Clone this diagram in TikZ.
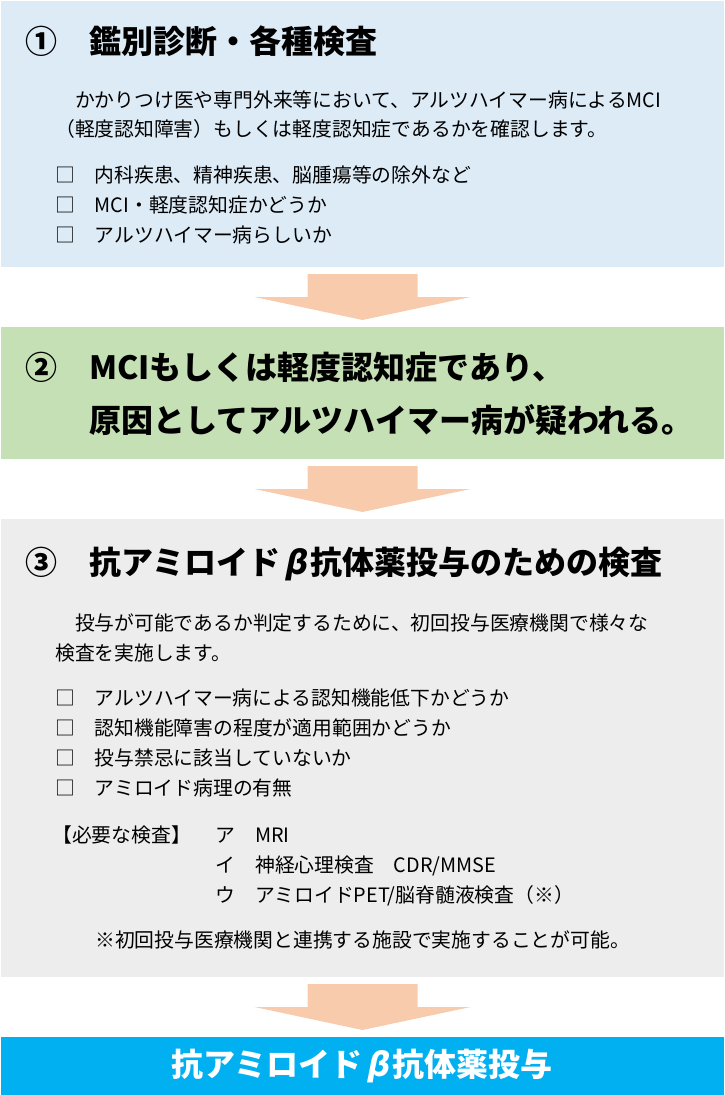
\documentclass[tikz,border=0pt]{standalone}
\usepackage{fontspec}
\setmainfont{Noto Sans CJK JP}
\newfontfamily\betafont{Noto Sans CJK JP}[FakeSlant=0.2]
\usetikzlibrary{calc}
\definecolor{bluebg}{HTML}{DDEBF7}
\definecolor{greenbg}{HTML}{C5E0B4}
\definecolor{graybg}{HTML}{EDEDED}
\definecolor{cyanbg}{HTML}{00B0F0}
\definecolor{arrowc}{HTML}{F8CBAD}
\newcommand{\slbeta}{\makebox[30pt]{\betafont\bfseries β}}
\tikzset{
  panel/.style={rectangle, draw=none, inner sep=0, outer sep=0, anchor=north west, minimum width=723pt},
  txt/.style={anchor=base west, inner sep=0, font=\fontsize{19.8}{24}\selectfont},
  ttl/.style={anchor=base west, inner sep=0, font=\fontsize{32}{38}\selectfont\bfseries},
  blockarrow/.style={fill=arrowc, draw=none}
}
\newcommand{\downarrowblock}[1]{%
  \fill[blockarrow] ($(#1)+(-55,-23)$) -- ($(#1)+(55,-23)$) -- ($(#1)+(55,0)$) -- ($(#1)+(108,0)$)
    -- ($(#1)+(0,23)$) -- ($(#1)+(-108,0)$) -- ($(#1)+(-55,0)$) -- cycle;}
\begin{document}
\begin{tikzpicture}[x=1pt, y=-1pt]
\useasboundingbox (0,0) rectangle (725,1095);
% panels
\node[panel, fill=bluebg, minimum height=266pt] (p1) at (1,1) {};
\node[panel, fill=greenbg, minimum height=132pt] (p2) at (1,327) {};
\node[panel, fill=graybg, minimum height=458pt] (p3) at (1,519) {};
\node[panel, fill=cyanbg, minimum height=60pt] (p4) at (1,1037) {};
% arrows between panels
\path (p1.south) -- (p2.north) coordinate[midway] (m1);
\path (p2.south) -- (p3.north) coordinate[midway] (m2);
\path (p3.south) -- (p4.north) coordinate[midway] (m3);
\downarrowblock{m1}
\downarrowblock{m2}
\downarrowblock{m3}
% panel 1
\node[ttl] (n1) at (25,53) {①};
\node[ttl] (t1) at (89,53) {鑑別診断・各種検査};
\node[txt] (b1a) at (55,107) {　かかりつけ医や専門外来等において、アルツハイマー病によるMCI};
\node[txt] (b1b) at (55,136) {（軽度認知障害）もしくは軽度認知症であるかを確認します。};
\node[txt] (c1a) at (55,182) {□　内科疾患、精神疾患、脳腫瘍等の除外など};
\node[txt] (c1b) at (55,212) {□　MCI・軽度認知症かどうか};
\node[txt] (c1c) at (55,242) {□　アルツハイマー病らしいか};
% panel 2
\node[ttl] (n2) at (25,379) {②};
\node[ttl] (t2a) at (89,379) {MCIもしくは軽度認知症であり、};
\node[ttl] (t2b) at (89,432) {原因としてアルツハイマー病が疑われる。};
% panel 3
\node[ttl] (n3) at (25,574) {③};
\node[ttl] (t3) at (89,574) {抗アミロイド\slbeta 抗体薬投与のための検査};
\node[txt] (b3a) at (55,630) {　投与が可能であるか判定するために、初回投与医療機関で様々な};
\node[txt] (b3b) at (55,660) {検査を実施します。};
\node[txt] (c3a) at (55,705) {□　アルツハイマー病による認知機能低下かどうか};
\node[txt] (c3b) at (55,735) {□　認知機能障害の程度が適用範囲かどうか};
\node[txt] (c3c) at (55,765) {□　投与禁忌に該当していないか};
\node[txt] (c3d) at (55,795) {□　アミロイド病理の有無};
\node[txt] (req) at (52,842) {【必要な検査】};
\node[txt] (ka) at (215,842) {ア};
\node[txt] (ta) at (255,842) {MRI};
\node[txt] (ki) at (215,872) {イ};
\node[txt] (ti) at (255,872) {神経心理検査　CDR/MMSE};
\node[txt] (ku) at (215,902) {ウ};
\node[txt] (tu) at (255,902) {アミロイドPET/脳脊髄液検査（※）};
\node[txt] (note) at (95,947) {※初回投与医療機関と連携する施設で実施することが可能。};
% panel 4
\node[ttl, anchor=base, text=white] (t4) at (362,1076) {抗アミロイド\slbeta 抗体薬投与};
\end{tikzpicture}
\end{document}
